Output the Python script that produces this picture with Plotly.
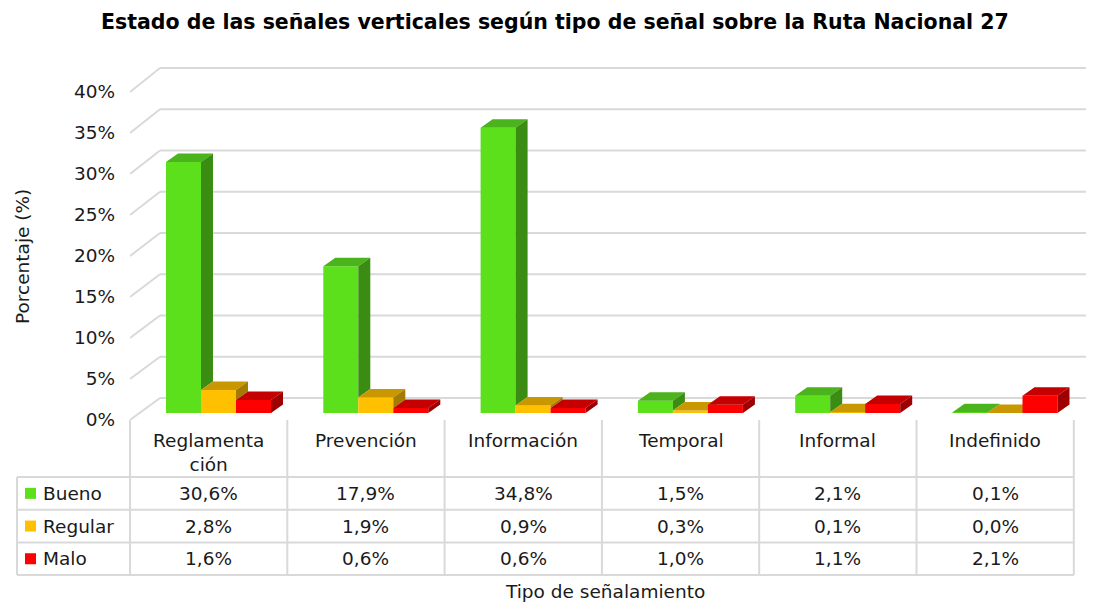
import plotly.graph_objects as go

# ---------------- data ----------------
categories = ["Reglamentación", "Prevención", "Información", "Temporal", "Informal", "Indefinido"]
series_names = ["Bueno", "Regular", "Malo"]
bueno = [30.6, 17.9, 34.8, 1.5, 2.1, 0.1]
regular = [2.8, 1.9, 0.9, 0.3, 0.1, 0.0]
malo = [1.6, 0.6, 0.6, 1.0, 1.1, 2.1]
y_ticks = [0, 5, 10, 15, 20, 25, 30, 35, 40]
title = "Estado de las señales verticales según tipo de señal sobre la Ruta Nacional 27"
y_title = "Porcentaje (%)"
x_title = "Tipo de señalamiento"

series_values = [bueno, regular, malo]
front_colors = ["#5BE01B", "#FFC000", "#FF0000"]
top_colors = ["#4BB41C", "#C99700", "#C40000"]
side_colors = ["#3A8C12", "#A57A00", "#9E0000"]

# ---------------- geometry (page pixels) ----------------
PAGE_W, PAGE_H = 1094, 604
BODY = 8                       # default page margin around the figure
W, H = PAGE_W - BODY, PAGE_H - BODY
COL_W = 157.3
X_LEFT = 130
X_RIGHT = 1092
Y_ZERO = 413
S = 8.2
Y_BOTTOM, Y_TOP = 430, 55
BAR_W = 35 / COL_W
FIRST_OFF = 36 / COL_W - 0.5
DX = 12 / COL_W
DY = 8.5 / S
FONT = "DejaVu Sans"
FS = 18.5
TXT = "#1a1a1a"
GRID = "#D9D9D9"


def pxx(x):
    return (x - BODY) / W


def pxy(y):
    return 1 - (y - BODY) / H


x_rng = [-0.5, -0.5 + (X_RIGHT - X_LEFT) / COL_W]
y_rng = [-(Y_BOTTOM - Y_ZERO) / S, (Y_ZERO - Y_TOP) / S]

fig = go.Figure()
idx = list(range(len(categories)))

for s, (name, vals) in enumerate(zip(series_names, series_values)):
    off = FIRST_OFF + s * BAR_W
    fig.add_trace(go.Bar(
        x=idx, y=vals, name=name, offset=off, width=BAR_W,
        marker=dict(color=front_colors[s], line=dict(width=0)),
        zorder=2 * s, showlegend=False,
        hovertemplate="%{y:.1f}%<extra>" + name + "</extra>",
    ))
    tx, ty, sx, sy = [], [], [], []
    for i, v in enumerate(vals):
        x0 = i + off
        x1 = x0 + BAR_W
        tx += [x0, x1, x1 + DX, x0 + DX, x0, None]
        ty += [v, v, v + DY, v + DY, v, None]
        lower = series_values[s + 1][i] if s + 1 < len(series_values) else 0
        if v > lower:
            sx += [x1, x1, x1 + DX, x1 + DX, x1, None]
            sy += [lower, v, v + DY, lower + DY, lower, None]
    fig.add_trace(go.Scatter(x=tx, y=ty, mode="lines", fill="toself",
                             fillcolor=top_colors[s], line=dict(width=0, color=top_colors[s]),
                             zorder=2 * s + 1, showlegend=False, hoverinfo="skip"))
    if sx:
        fig.add_trace(go.Scatter(x=sx, y=sy, mode="lines", fill="toself",
                                 fillcolor=side_colors[s], line=dict(width=0, color=side_colors[s]),
                                 zorder=2 * s + 1, showlegend=False, hoverinfo="skip"))

shapes = []
xb = -0.5 + 30 / COL_W
for t in y_ticks:
    yf = t - 7 / S
    yb = t * 1.006 + 15 / S
    shapes.append(dict(type="line", xref="x", yref="y", x0=-0.5, y0=yf, x1=xb, y1=yb,
                       line=dict(color=GRID, width=2), layer="below"))
    shapes.append(dict(type="line", xref="x", yref="y", x0=xb, y0=yb, x1=x_rng[1], y1=yb,
                       line=dict(color=GRID, width=2), layer="below"))

# data table
T_TOP, HDR_BOT = 420, 477
ROW_H = 32.7
T_BOT = HDR_BOT + 3 * ROW_H
T_LEFT = 17
n = len(categories)
for k in range(n + 1):
    xk = X_LEFT + k * COL_W
    shapes.append(dict(type="line", xref="paper", yref="paper", x0=pxx(xk), x1=pxx(xk),
                       y0=pxy(T_TOP), y1=pxy(T_BOT), line=dict(color=GRID, width=2)))
shapes.append(dict(type="line", xref="paper", yref="paper", x0=pxx(T_LEFT), x1=pxx(T_LEFT),
                   y0=pxy(HDR_BOT), y1=pxy(T_BOT), line=dict(color=GRID, width=2)))
for r in range(4):
    yr = HDR_BOT + r * ROW_H
    shapes.append(dict(type="line", xref="paper", yref="paper", x0=pxx(T_LEFT),
                       x1=pxx(X_LEFT + n * COL_W), y0=pxy(yr), y1=pxy(yr),
                       line=dict(color=GRID, width=2)))

annotations = []
for k, c in enumerate(categories):
    label = c if len(c) <= 12 else c[:10] + "<br>" + c[10:]
    annotations.append(dict(x=pxx(X_LEFT + (k + 0.5) * COL_W), y=pxy(T_TOP + 8), xref="paper", yref="paper",
                            text=label, showarrow=False, xanchor="center", yanchor="top",
                            font=dict(family=FONT, size=FS, color=TXT)))
for r, (name, vals) in enumerate(zip(series_names, series_values)):
    yc = HDR_BOT + (r + 0.5) * ROW_H
    shapes.append(dict(type="rect", xref="paper", yref="paper", x0=pxx(25), x1=pxx(36),
                       y0=pxy(yc - 5.5), y1=pxy(yc + 5.5), fillcolor=front_colors[r],
                       line=dict(width=0)))
    annotations.append(dict(x=pxx(41), y=pxy(yc), xref="paper", yref="paper", text=name,
                            showarrow=False, xanchor="left", yanchor="middle",
                            font=dict(family=FONT, size=FS, color=TXT)))
    for k, v in enumerate(vals):
        annotations.append(dict(x=pxx(X_LEFT + (k + 0.5) * COL_W), y=pxy(yc), xref="paper", yref="paper",
                                text=f"{v:.1f}".replace(".", ",") + "%", showarrow=False,
                                xanchor="center", yanchor="middle",
                                font=dict(family=FONT, size=FS, color=TXT)))

annotations.append(dict(x=pxx(555), y=pxy(22), xref="paper", yref="paper", text="<b>" + title + "</b>",
                        showarrow=False, xanchor="center", yanchor="middle",
                        font=dict(family=FONT, size=20.5, color="#000000")))
annotations.append(dict(x=pxx(22), y=pxy(257), xref="paper", yref="paper", text=y_title,
                        showarrow=False, textangle=-90, xanchor="center", yanchor="middle",
                        font=dict(family=FONT, size=FS, color=TXT)))
annotations.append(dict(x=pxx(605), y=pxy(591), xref="paper", yref="paper", text=x_title,
                        showarrow=False, xanchor="center", yanchor="middle",
                        font=dict(family=FONT, size=FS, color=TXT)))

fig.update_layout(
    width=W, height=H, margin=dict(l=0, r=0, t=0, b=0),
    paper_bgcolor="white", plot_bgcolor="rgba(0,0,0,0)",
    barmode="overlay", showlegend=False,
    shapes=shapes, annotations=annotations,
    xaxis=dict(domain=[pxx(X_LEFT), pxx(X_RIGHT)], range=x_rng, showgrid=False, zeroline=False,
               showticklabels=False, showline=False, fixedrange=True),
    yaxis=dict(domain=[pxy(Y_BOTTOM), pxy(Y_TOP)], range=y_rng, showgrid=False, zeroline=False,
               showline=False, tickvals=y_ticks, ticktext=[f"{t}%" for t in y_ticks],
               ticks="", ticklabelshift=7, ticklabelstandoff=14,
               tickfont=dict(family=FONT, size=FS, color=TXT), fixedrange=True),
)

fig.write_html("out.html")
